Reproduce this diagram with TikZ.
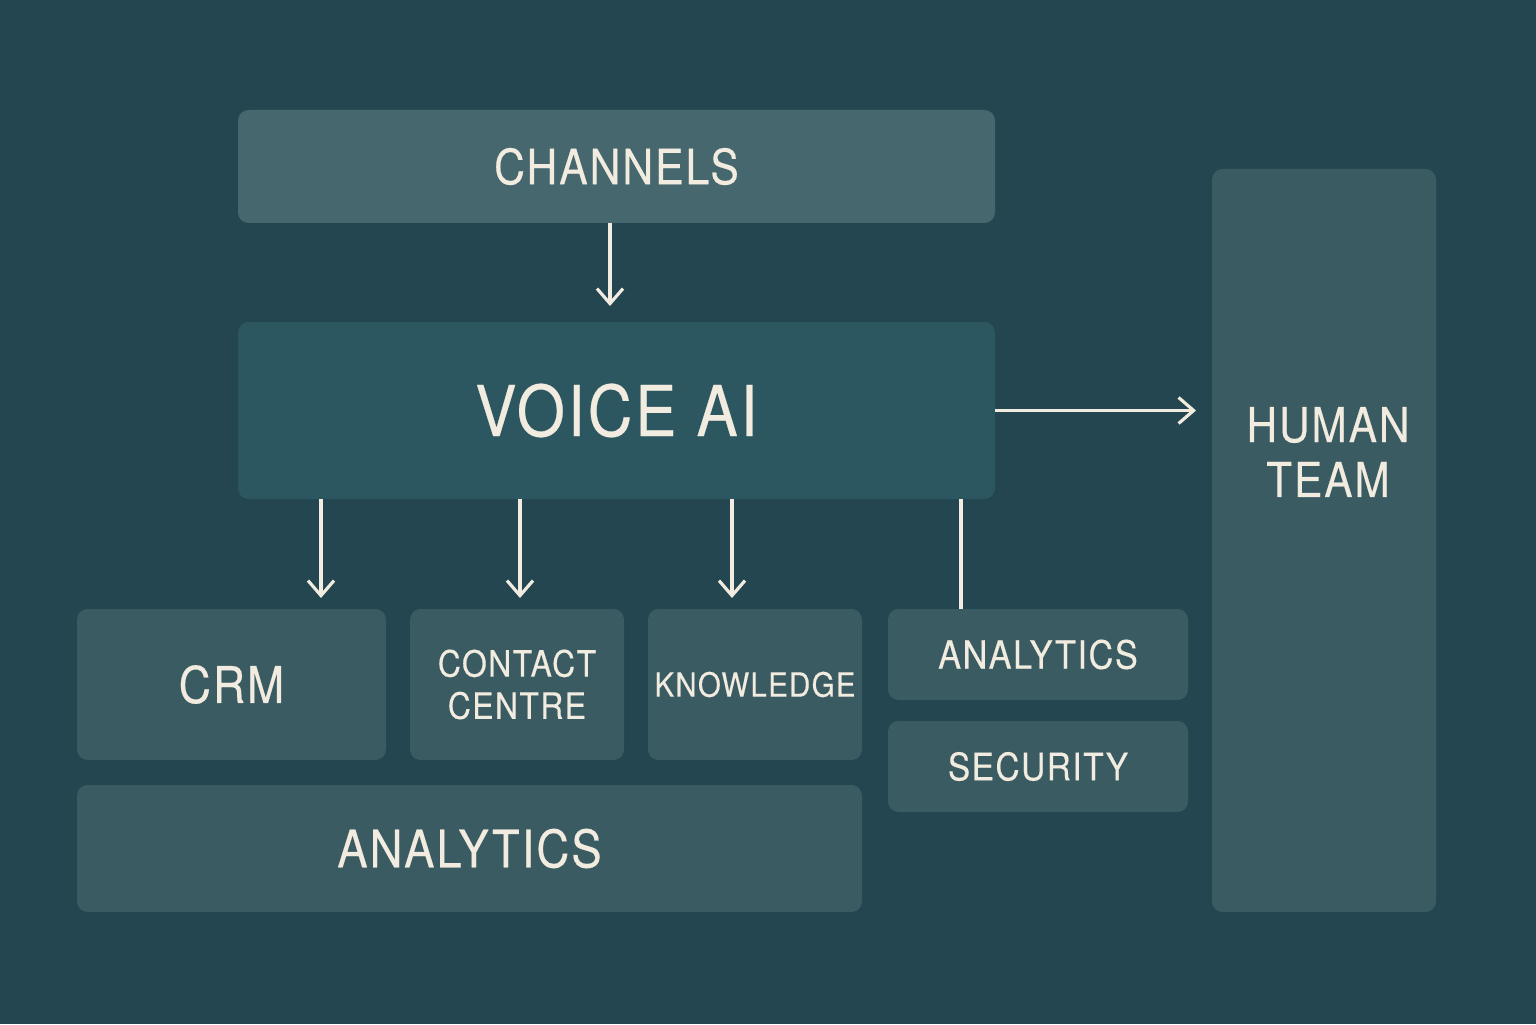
\documentclass[tikz,border=0pt]{standalone}
\usepackage{fontspec}
\usepackage{xcolor}
\usepackage{tikz}
\usetikzlibrary{arrows.meta,positioning,calc}
\setmainfont{TeX Gyre Heros}
\definecolor{VaBack}{HTML}{234650}
\definecolor{VaBox}{HTML}{3A5B62}
\definecolor{VaCore}{HTML}{2C5761}
\definecolor{VaTop}{HTML}{46676D}
\definecolor{VaText}{HTML}{F1ECDF}
\newfontfamily\capsfont[LetterSpace=4,FakeStretch=0.88,FakeBold=0.35]{TeX Gyre Heros}
\newcommand{\capsize}[1]{\capsfont\fontsize{#1}{#1}\selectfont}

\begin{document}
\begin{tikzpicture}[
  x=1cm,y=1cm,
  block/.style={rounded corners=3pt,fill=VaBox,draw=none,inner sep=0pt,outer sep=0pt,
    align=center,text=VaText,font=\capsfont},
  arrow/.style={-{Straight Barb[length=1.5mm,width=2.6mm,line width=0.9pt]},line width=0.9pt,color=VaText},
  link/.style={line width=0.9pt,color=VaText}
]
  \fill[VaBack] (0,0) rectangle (15.36,10.24);

  \node[block,fill=VaTop,minimum width=7.57cm,minimum height=1.13cm,font=\capsize{13.8}]
    (channels) at (6.165,8.575) {CHANNELS};
  \node[block,fill=VaCore,minimum width=7.57cm,minimum height=1.77cm,font=\capsize{20}]
    (voice) at (6.165,6.135) {VOICE AI};
  \node[block,minimum width=2.24cm,minimum height=7.43cm] (human) at (13.24,4.835) {};
  \node[text=VaText,align=center,inner sep=0pt,font=\capsfont\fontsize{13.7}{15.6}\selectfont]
    (humanlbl) at (13.28,5.72) {HUMAN\\TEAM};

  \node[block,minimum width=3.09cm,minimum height=1.51cm,font=\capsize{14.4}]
    (crm) at (2.315,3.395) {CRM};
  \node[block,minimum width=2.14cm,minimum height=1.51cm,font=\capsfont\fontsize{10.3}{12}\selectfont]
    (contact) at (5.17,3.395) {CONTACT\\CENTRE};
  \node[block,minimum width=2.14cm,minimum height=1.51cm,font=\capsize{9.5}]
    (knowledge) at (7.55,3.395) {KNOWLEDGE};
  \node[block,minimum width=3.00cm,minimum height=0.91cm,font=\capsize{11.1}]
    (analyticsr) at (10.38,3.695) {ANALYTICS};
  \node[block,minimum width=3.00cm,minimum height=0.91cm,font=\capsize{10.8}]
    (security) at (10.38,2.575) {SECURITY};
  \node[block,minimum width=7.85cm,minimum height=1.27cm,font=\capsize{14.7}]
    (analyticsb) at (4.695,1.755) {ANALYTICS};

  \draw[arrow,shorten >=0.16cm] (6.10,0 |- channels.south) -- (6.10,0 |- voice.north);
  \draw[arrow,shorten >=0.16cm] (voice.east) -- (voice.east -| human.west);
  \draw[arrow,shorten >=0.11cm] (3.21,0 |- voice.south) -- (3.21,0 |- crm.north);
  \draw[arrow,shorten >=0.11cm] (5.20,0 |- voice.south) -- (5.20,0 |- contact.north);
  \draw[arrow,shorten >=0.11cm] (7.32,0 |- voice.south) -- (7.32,0 |- knowledge.north);
  \draw[link] (9.61,0 |- voice.south) -- (9.61,0 |- analyticsr.north);
\end{tikzpicture}
\end{document}
